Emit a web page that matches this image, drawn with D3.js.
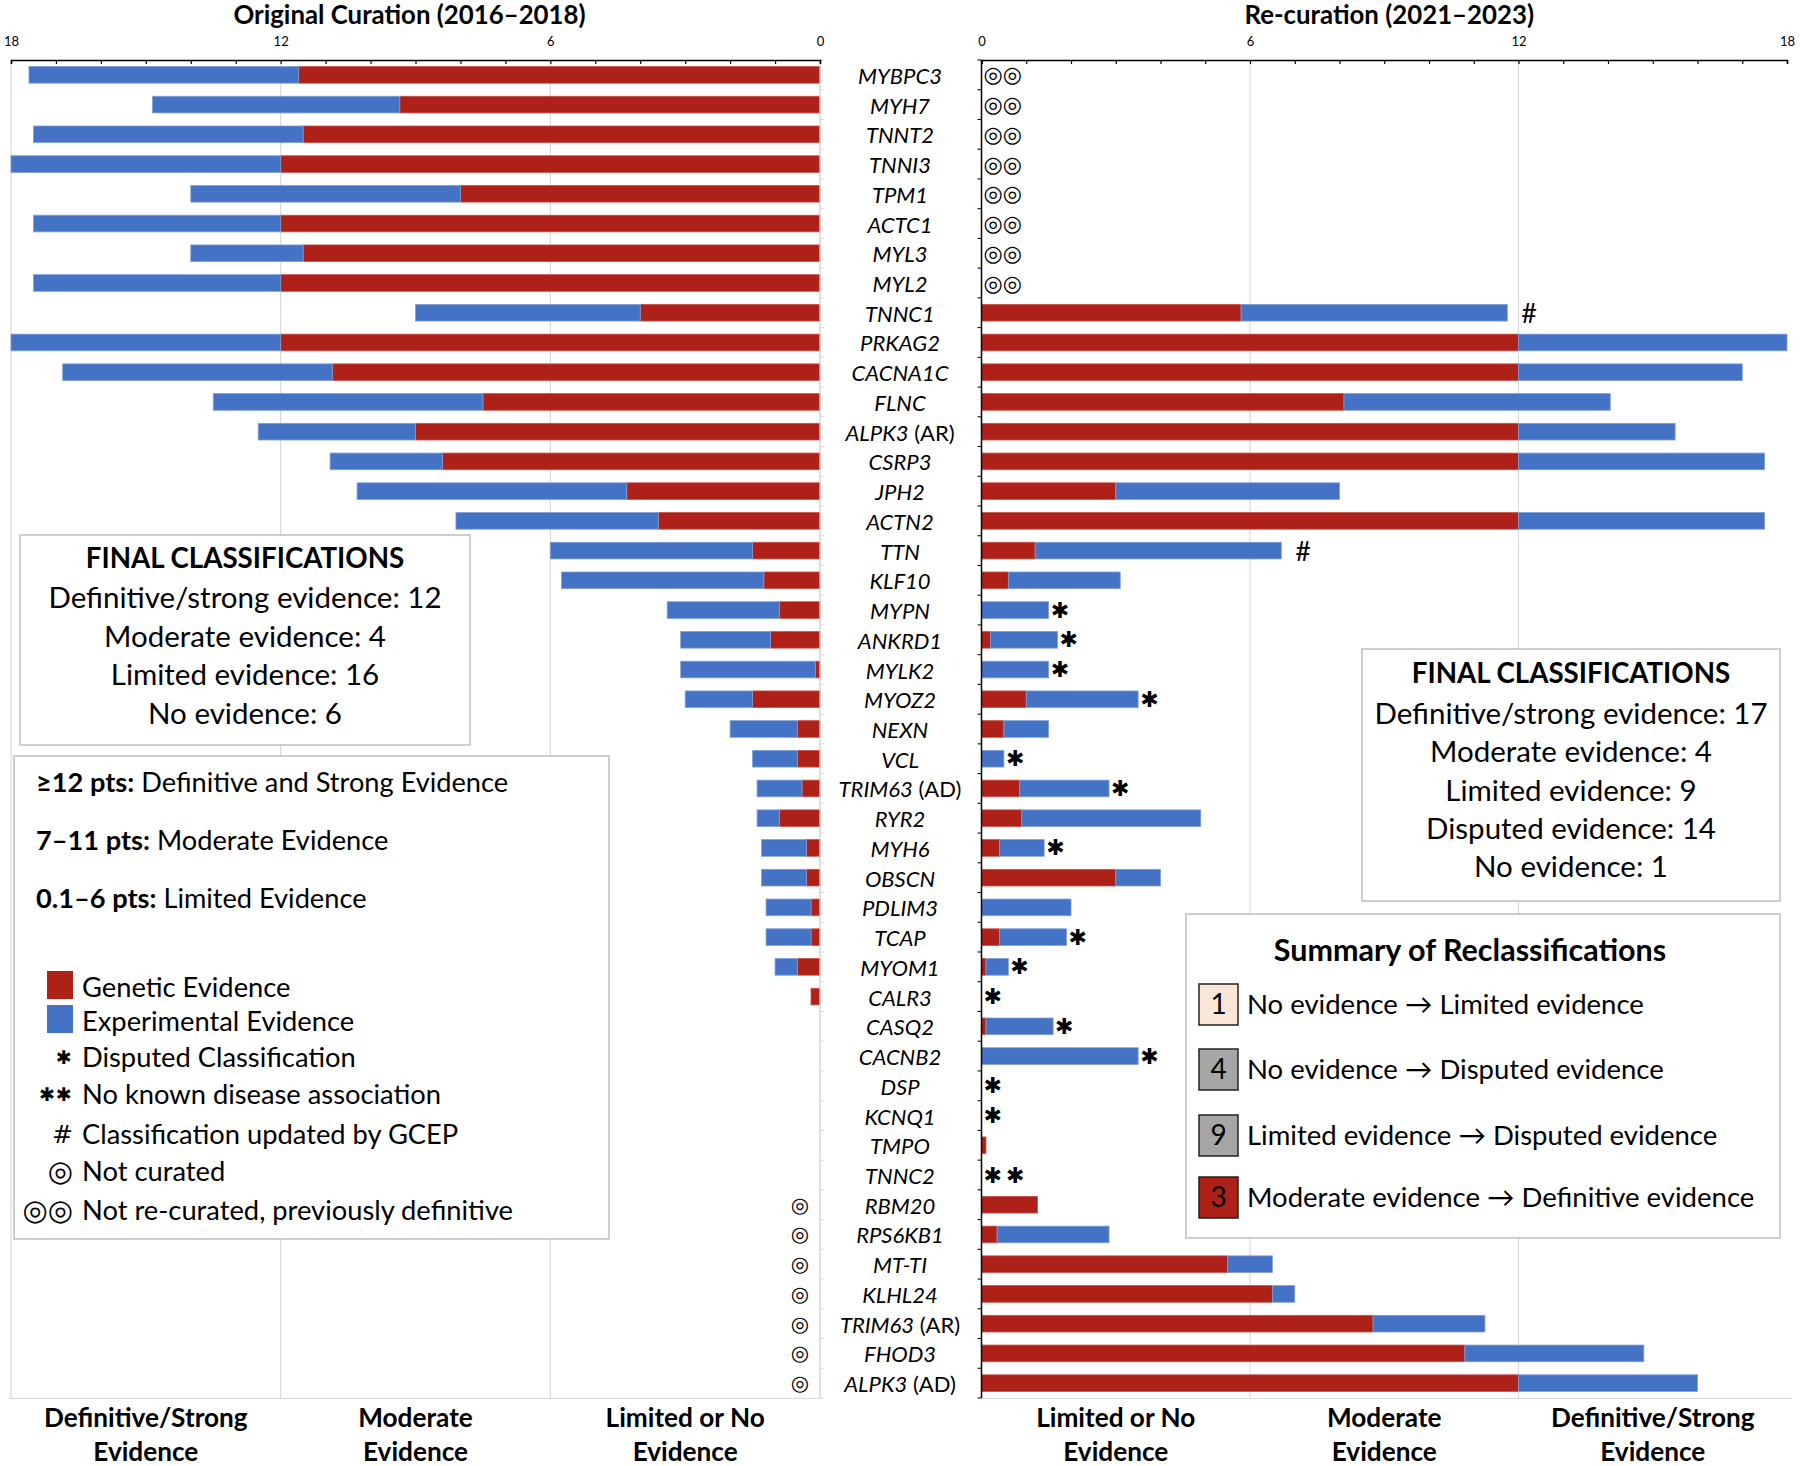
<!DOCTYPE html>
<html>
<head>
<meta charset="utf-8">
<script src="https://cdn.jsdelivr.net/npm/d3@7"></script>
<style>
  body { margin: 0; background: #fff; }
  svg text { font-family: Lato, "Open Sans", sans-serif; fill: #000; }
  .sym { font-family: "DejaVu Sans", sans-serif; }
</style>
</head>
<body>
<div id="chart"></div>
<script>
// ---- data ----
const genes = ['MYBPC3', 'MYH7', 'TNNT2', 'TNNI3', 'TPM1', 'ACTC1', 'MYL3', 'MYL2', 'TNNC1', 'PRKAG2',
    'CACNA1C', 'FLNC', 'ALPK3 (AR)', 'CSRP3', 'JPH2', 'ACTN2', 'TTN', 'KLF10', 'MYPN', 'ANKRD1',
    'MYLK2', 'MYOZ2', 'NEXN', 'VCL', 'TRIM63 (AD)', 'RYR2', 'MYH6', 'OBSCN', 'PDLIM3', 'TCAP',
    'MYOM1', 'CALR3', 'CASQ2', 'CACNB2', 'DSP', 'KCNQ1', 'TMPO', 'TNNC2', 'RBM20', 'RPS6KB1',
    'MT-TI', 'KLHL24', 'TRIM63 (AR)', 'FHOD3', 'ALPK3 (AD)'];

// original curation 2016-2018
const origGenetic = [11.6, 9.35, 11.5, 12, 8, 12, 11.5, 12, 4, 12,
    10.85, 7.5, 9, 8.4, 4.3, 3.6, 1.5, 1.25, 0.9, 1.1,
    0.1, 1.5, 0.5, 0.5, 0.4, 0.9, 0.3, 0.3, 0.2, 0.2,
    0.5, 0.2, 0, 0, 0, 0, 0, 0, 0, 0,
    0, 0, 0, 0, 0];
const origExperimental = [6, 5.5, 6, 6, 6, 5.5, 2.5, 5.5, 5, 6,
    6, 6, 3.5, 2.5, 6, 4.5, 4.5, 4.5, 2.5, 2,
    3, 1.5, 1.5, 1, 1, 0.5, 1, 1, 1, 1,
    0.5, 0, 0, 0, 0, 0, 0, 0, 0, 0,
    0, 0, 0, 0, 0];

// re-curation 2021-2023
const reGenetic = [0, 0, 0, 0, 0, 0, 0, 0, 5.8, 12,
    12, 8.1, 12, 12, 3, 12, 1.2, 0.6, 0, 0.2,
    0, 1, 0.5, 0, 0.85, 0.9, 0.4, 3, 0, 0.4,
    0.1, 0, 0.1, 0, 0, 0, 0.1, 0, 1.25, 0.35,
    5.5, 6.5, 8.75, 10.8, 12];
const reExperimental = [0, 0, 0, 0, 0, 0, 0, 0, 5.95, 6,
    5, 5.95, 3.5, 5.5, 5, 5.5, 5.5, 2.5, 1.5, 1.5,
    1.5, 2.5, 1, 0.5, 2, 4, 1, 1, 2, 1.5,
    0.5, 0, 1.5, 3.5, 0, 0, 0, 0, 0, 2.5,
    1, 0.5, 2.5, 4, 4];

const disputedGenes = ['MYPN', 'ANKRD1', 'MYLK2', 'MYOZ2', 'VCL', 'TRIM63 (AD)', 'MYH6', 'TCAP',
    'MYOM1', 'CALR3', 'CASQ2', 'CACNB2', 'DSP', 'KCNQ1'];
const noDiseaseGenes = ['TNNC2'];
const gcepGenes = ['TNNC1', 'TTN'];
const notRecuratedGenes = ['MYBPC3', 'MYH7', 'TNNT2', 'TNNI3', 'TPM1', 'ACTC1', 'MYL3', 'MYL2'];
const notCuratedGenes = ['RBM20', 'RPS6KB1', 'MT-TI', 'KLHL24', 'TRIM63 (AR)', 'FHOD3', 'ALPK3 (AD)'];

const tickLabels = [0, 6, 12, 18];
const bandLabels = [['Limited or No', 'Evidence'], ['Moderate', 'Evidence'], ['Definitive/Strong', 'Evidence']];
const bandCenters = [3, 9, 15];

const origFinal = ['Definitive/strong evidence: 12', 'Moderate evidence: 4', 'Limited evidence: 16', 'No evidence: 6'];
const reFinal = ['Definitive/strong evidence: 17', 'Moderate evidence: 4', 'Limited evidence: 9',
    'Disputed evidence: 14', 'No evidence: 1'];
const pointRules = [['≥12 pts:', ' Definitive and Strong Evidence'], ['7–11 pts:', ' Moderate Evidence'],
    ['0.1–6 pts:', ' Limited Evidence']];
const legendItems = [['box', 'Genetic Evidence'], ['box', 'Experimental Evidence'], ['✱', 'Disputed Classification'],
    ['✱✱', 'No known disease association'], ['#', 'Classification updated by GCEP'], ['◎', 'Not curated'],
    ['◎◎', 'Not re-curated, previously definitive']];
const summaryCounts = [1, 4, 9, 3];
const summaryText = ['No evidence → Limited evidence', 'No evidence → Disputed evidence',
    'Limited evidence → Disputed evidence', 'Moderate evidence → Definitive evidence'];
const summaryFill = ['#fbe5d6', '#a6a6a6', '#a6a6a6', '#ae2119'];

const RED = '#ae2119', BLUE = '#4472c4', GRID = '#d9d9d9';

// ---- chart ----
const width = 1800, height = 1466;
const svg = d3.select('#chart').append('svg')
    .attr('width', width).attr('height', height);

const y = d3.scaleBand().domain(genes).range([60, 1398]).paddingInner(0.44).paddingOuter(0.22);
const xLeft = d3.scaleLinear().domain([0, 18]).range([820, 11]);
const xRight = d3.scaleLinear().domain([0, 18]).range([981.5, 1787]);

function stackRows(genetic, experimental) {
    const rows = genes.map((g, i) => ({gene: g, genetic: genetic[i], experimental: experimental[i]}));
    return d3.stack().keys(['genetic', 'experimental'])(rows);
}

function drawPanel(x, genetic, experimental, title, left) {
    const g = svg.append('g');
    // vertical gridlines
    const gridVals = left ? [18, 12, 6, 0] : [6, 12];
    g.selectAll('line.grid').data(gridVals).join('line')
        .attr('x1', d => x(d)).attr('x2', d => x(d))
        .attr('y1', 60).attr('y2', 1398)
        .attr('stroke', GRID).attr('stroke-width', 1.2);
    g.append('line')
        .attr('x1', x(0)).attr('x2', x(18) + (left ? -2 : 4))
        .attr('y1', 1398.5).attr('y2', 1398.5)
        .attr('stroke', GRID).attr('stroke-width', 1.2);

    // stacked bars
    const series = stackRows(genetic, experimental);
    g.selectAll('g.series').data(series).join('g')
        .attr('fill', d => d.key === 'genetic' ? RED : BLUE)
        .attr('stroke', d => d.key === 'genetic' ? '#c9504a' : '#7f9fd8')
        .attr('stroke-width', 0.8)
        .selectAll('rect').data(d => d.filter(p => p[1] > p[0])).join('rect')
        .attr('x', p => Math.min(x(p[0]), x(p[1])))
        .attr('width', p => Math.abs(x(p[1]) - x(p[0])))
        .attr('y', p => y(p.data.gene))
        .attr('height', y.bandwidth());

    // category axis with boundary ticks
    const cat = g.append('g').attr('stroke', left ? GRID : '#000');
    cat.append('line').attr('x1', x(0)).attr('x2', x(0)).attr('y1', 60).attr('y2', 1398).attr('stroke-width', left ? 1.2 : 1.5);
    cat.selectAll('line.tick').data(d3.range(genes.length + 1)).join('line')
        .attr('x1', x(0)).attr('x2', x(0) + (left ? 4 : -4))
        .attr('y1', i => 60 + i * y.step()).attr('y2', i => 60 + i * y.step())
        .attr('stroke-width', 1);

    // value axis on top
    const axis = d3.axisTop(x).tickValues(d3.range(0, 19)).tickSize(-4).tickPadding(14)
        .tickFormat(d => tickLabels.includes(d) ? d : '');
    const ax = g.append('g').attr('transform', 'translate(0,60)').call(axis);
    ax.select('.domain').attr('stroke', '#000').attr('stroke-width', 1.5);
    ax.selectAll('.tick line').attr('stroke', '#000').attr('stroke-width', 1.2);
    ax.selectAll('.tick text').attr('font-size', 13).attr('font-family', 'Lato').attr('fill', '#000');

    // panel title
    g.append('text')
        .attr('x', x(9) + (left ? -6 : 5)).attr('y', 24)
        .attr('text-anchor', 'middle').attr('font-weight', 700).attr('font-size', 25.8)
        .text(title);

    // evidence band labels at bottom
    const bl = g.selectAll('text.band').data(bandLabels).join('text')
        .attr('text-anchor', 'middle').attr('font-weight', 700).attr('font-size', 26.2);
    bl.selectAll('tspan').data((d, i) => d.map(s => ({s, i}))).join('tspan')
        .attr('x', d => x(bandCenters[d.i]))
        .attr('y', (d, j) => 1427 + j * 34)
        .text(d => d.s);
    return g;
}

drawPanel(xLeft, origGenetic, origExperimental, 'Original Curation (2016–2018)', true);
drawPanel(xRight, reGenetic, reExperimental, 'Re-curation (2021–2023)', false);

// gene names in the middle column
const labels = svg.append('g').selectAll('text').data(genes).join('text')
    .attr('x', 900).attr('y', d => y(d) + y.bandwidth() / 2 + 9)
    .attr('text-anchor', 'middle').attr('font-size', 22);
labels.each(function (d) {
    const parts = d.split(' ');
    const t = d3.select(this);
    t.append('tspan').attr('font-style', 'italic').text(parts[0]);
    if (parts[1]) t.append('tspan').text(' ' + parts[1]);
});

// annotation marks on the re-curation side
const reTotal = genes.map((g, i) => reGenetic[i] + reExperimental[i]);
const mid = d => y(d) + y.bandwidth() / 2;
const endX = d => xRight(reTotal[genes.indexOf(d)]);

svg.append('g').selectAll('text').data(notRecuratedGenes).join('text')
    .attr('class', 'sym').attr('x', xRight(0) + 2).attr('y', mid)
    .attr('dominant-baseline', 'central').attr('font-size', 22)
    .text('◎◎');

svg.append('g').selectAll('text').data(disputedGenes.concat(noDiseaseGenes)).join('text')
    .attr('class', 'sym').attr('x', d => endX(d) + 2)
    .attr('y', mid)
    .attr('dominant-baseline', 'central').attr('font-size', 22)
    .attr('letter-spacing', 4)
    .text(d => noDiseaseGenes.includes(d) ? '✱✱' : '✱');

svg.append('g').selectAll('text').data(gcepGenes).join('text')
    .attr('x', d => endX(d) + 14).attr('y', mid)
    .attr('dominant-baseline', 'central').attr('font-size', 27)
    .text('#');

svg.append('g').selectAll('text').data(notCuratedGenes).join('text')
    .attr('class', 'sym').attr('x', 800).attr('y', mid)
    .attr('text-anchor', 'middle').attr('dominant-baseline', 'central').attr('font-size', 21)
    .text('◎');

// ---- boxes ----
function box(x0, y0, x1, y1) {
    return svg.append('rect').attr('x', x0).attr('y', y0)
        .attr('width', x1 - x0).attr('height', y1 - y0)
        .attr('fill', '#fff').attr('stroke', '#bfbfbf').attr('stroke-width', 1.5);
}

function finalBox(x0, y0, x1, y1, lines, titleY, firstY, step) {
    box(x0, y0, x1, y1);
    const cx = (x0 + x1) / 2;
    svg.append('text').attr('x', cx).attr('y', titleY).attr('text-anchor', 'middle')
        .attr('font-weight', 700).attr('font-size', 27.7).text('FINAL CLASSIFICATIONS');
    svg.append('g').selectAll('text').data(lines).join('text')
        .attr('x', cx).attr('y', (d, i) => firstY + i * step)
        .attr('text-anchor', 'middle').attr('font-size', 29.5)
        .text(d => d);
}

finalBox(20, 535, 470, 745, origFinal, 568, 608, 38.5);
finalBox(1362, 649, 1780, 901, reFinal, 683, 724, 38.3);

// left key box
box(14, 756, 609, 1239);
const rules = svg.append('g').selectAll('text').data(pointRules).join('text')
    .attr('x', 36).attr('y', (d, i) => 792 + i * 58).attr('font-size', 27.2);
rules.append('tspan').attr('font-weight', 700).text(d => d[0]);
rules.append('tspan').text(d => d[1]);

const keyY = i => [987, 1021, 1057, 1094, 1134, 1171, 1210][i];
const key = svg.append('g').selectAll('g').data(legendItems).join('g');
key.filter(d => d[0] === 'box').append('rect')
    .attr('x', 47).attr('width', 26).attr('height', 28)
    .attr('y', (d, i) => keyY(i) - 16)
    .attr('fill', (d, i) => i === 0 ? RED : BLUE);
key.filter(d => d[0] !== 'box').append('text')
    .attr('class', 'sym')
    .attr('x', 73).attr('y', (d, i) => keyY(i + 2))
    .attr('text-anchor', 'end').attr('dominant-baseline', 'central')
    .attr('letter-spacing', d => d[0].startsWith('✱') ? 1 : 0)
    .attr('font-size', d => d[0].startsWith('✱') ? 19 : (d[0] === '#' ? 25 : 29))
    .attr('font-family', d => d[0] === '#' ? 'Lato' : null)
    .text(d => d[0]);
key.append('text')
    .attr('x', 82).attr('y', (d, i) => keyY(i) + 9.5)
    .attr('font-size', 27.3)
    .text(d => d[1]);

// summary of reclassifications
box(1186, 914, 1780, 1238);
svg.append('text').attr('x', 1470).attr('y', 961).attr('text-anchor', 'middle')
    .attr('font-weight', 700).attr('font-size', 30.5).text('Summary of Reclassifications');
const sumY = [1004, 1069, 1135, 1197];
const sum = svg.append('g').selectAll('g').data(summaryCounts).join('g')
    .attr('transform', (d, i) => `translate(0,${sumY[i]})`);
sum.append('rect').attr('x', 1199).attr('y', -20).attr('width', 39).attr('height', 41)
    .attr('fill', (d, i) => summaryFill[i]).attr('stroke', '#222').attr('stroke-width', 1.5);
sum.append('text').attr('x', 1218.5).attr('y', 10).attr('text-anchor', 'middle')
    .attr('font-size', 28)
    .attr('fill', (d, i) => i === 3 ? '#fff' : '#000')
    .text(d => d);
sum.append('text').attr('x', 1247).attr('y', 10).attr('font-size', 27.5)
    .text((d, i) => summaryText[i]);
</script>
</body>
</html>
